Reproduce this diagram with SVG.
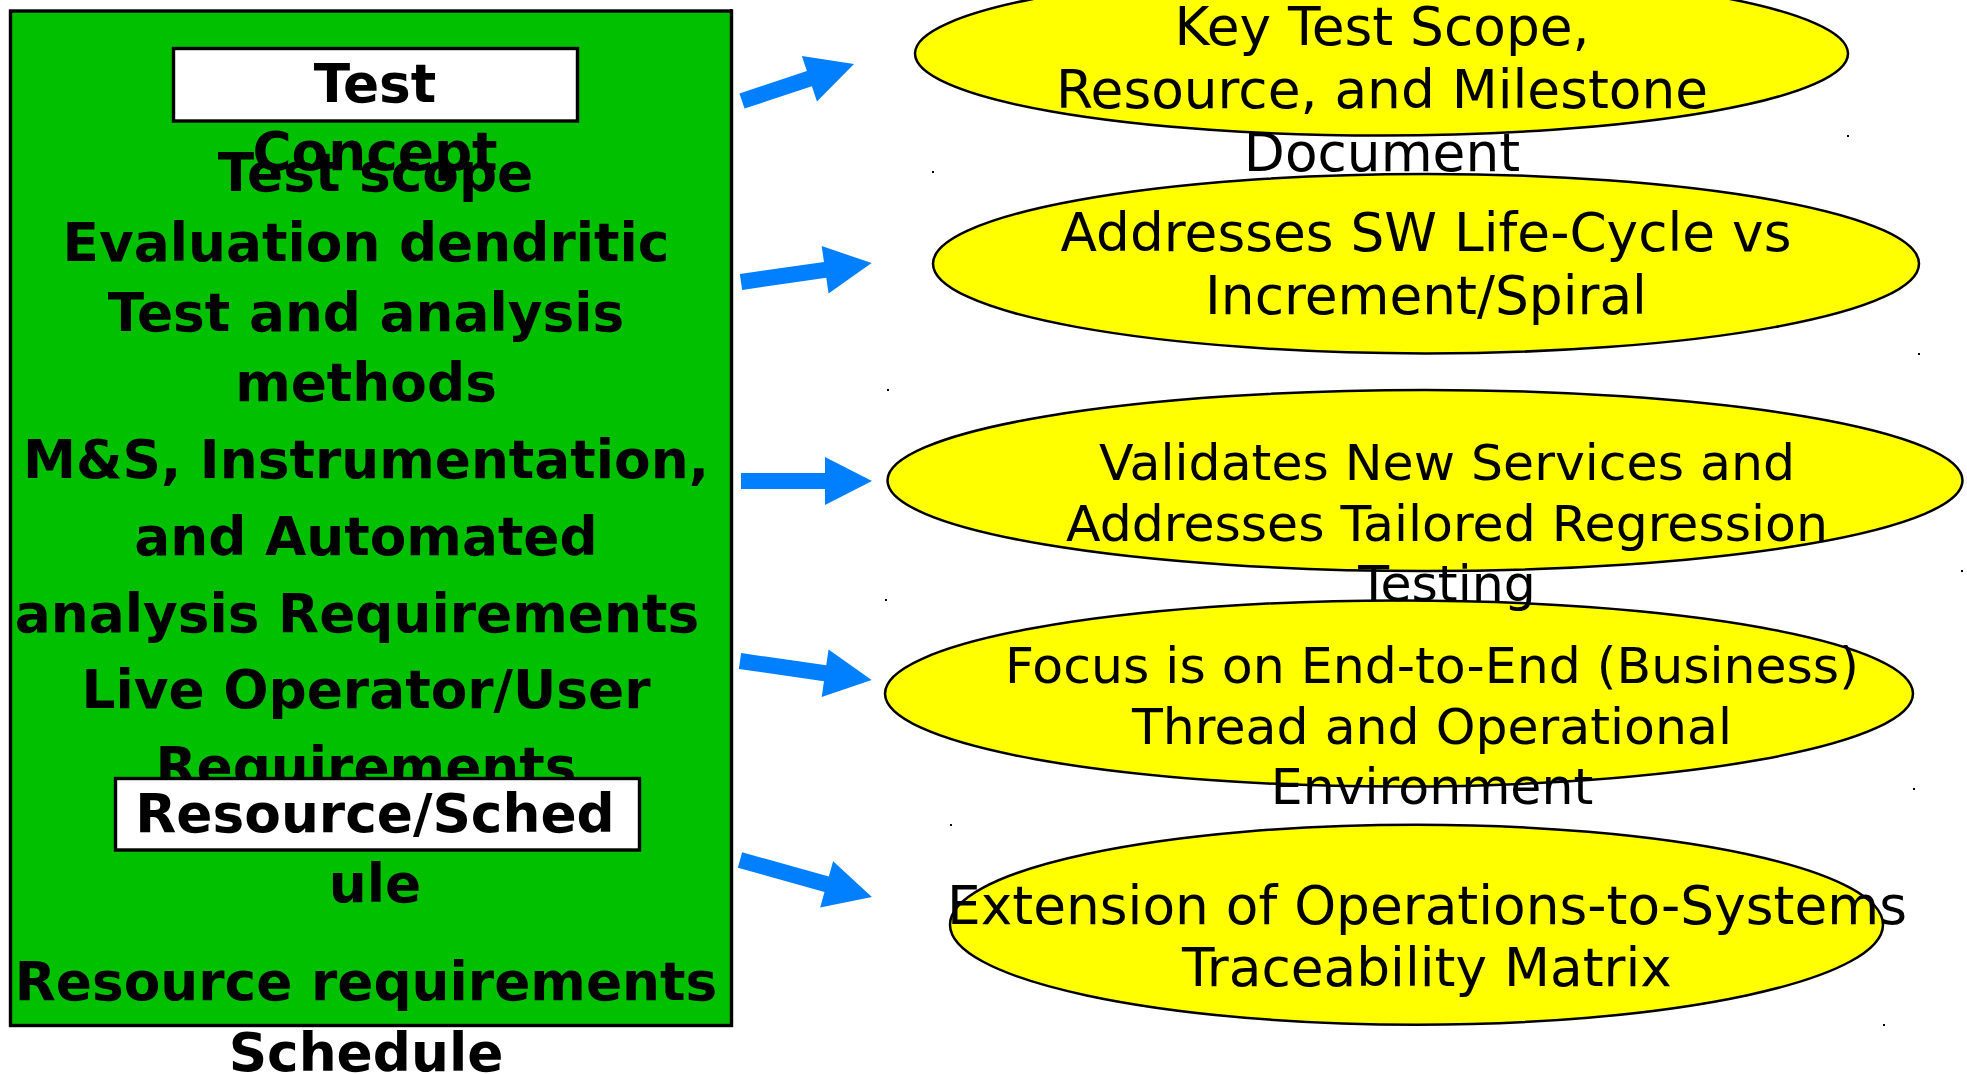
<svg xmlns="http://www.w3.org/2000/svg" width="1967" height="1074" viewBox="0 0 1967 1074">
<style>
.box{fill:#00c000;stroke:#000;stroke-width:3.4}
.lbl{fill:#fff;stroke:#000;stroke-width:3.4}
.bt{font-family:"DejaVu Sans",sans-serif;font-weight:bold;font-size:53.33px;fill:#000;text-anchor:middle}
.el{fill:#ffff00;stroke:#000;stroke-width:2.5}
.et{font-family:"DejaVu Sans",sans-serif;font-size:53.33px;fill:#000;text-anchor:middle}
.es{font-size:50.5px}
.arr{fill:#0080ff}
.dot{fill:#000}
</style>
<rect width="1967" height="1074" fill="#fff"/>
<g id="test-plan-box">
<rect class="box" x="10.5" y="11" width="721" height="1014.5"/>
<rect class="lbl" x="173.5" y="48.5" width="404" height="72.5"/>
<text class="bt" x="375" y="102">Test</text>
<text class="bt" x="375" y="170">Concept</text>
<text class="bt" x="375.5" y="191">Test scope</text>
<text class="bt" x="366" y="261">Evaluation dendritic</text>
<text class="bt" x="366" y="330.5">Test and analysis</text>
<text class="bt" x="366" y="401">methods</text>
<text class="bt" x="366" y="477.5">M&amp;S, Instrumentation,</text>
<text class="bt" x="366" y="555">and Automated</text>
<text class="bt" x="357" y="631.5">analysis Requirements</text>
<text class="bt" x="366" y="708">Live Operator/User</text>
<text class="bt" x="366" y="785">Requirements</text>
<rect class="lbl" x="115.5" y="778.5" width="524" height="71.5"/>
<text class="bt" x="375" y="832">Resource/Sched</text>
<text class="bt" x="375" y="902">ule</text>
<text class="bt" x="366" y="1000">Resource requirements</text>
<text class="bt" x="366" y="1071">Schedule</text>
<rect class="dot" x="730" y="9" width="2" height="2"/>
</g>
<g id="connectors">
<polygon class="arr" transform="translate(742,101) rotate(-18.3)" points="0,-8 71,-8 71,-24 118,0 71,24 71,8 0,8"/>
<polygon class="arr" transform="translate(741,282) rotate(-8.25)" points="0,-8 85,-8 85,-24 132,0 85,24 85,8 0,8"/>
<polygon class="arr" transform="translate(741,481)" points="0,-8 84,-8 84,-24 131,0 84,24 84,8 0,8"/>
<polygon class="arr" transform="translate(740,661) rotate(8.2)" points="0,-8 86,-8 86,-24 133,0 86,24 86,8 0,8"/>
<polygon class="arr" transform="translate(740,860) rotate(15.65)" points="0,-8 90,-8 90,-24 137,0 90,24 90,8 0,8"/>
</g>
<g id="node-traceability">
<ellipse class="el" cx="1416.5" cy="924.7" rx="466.5" ry="100"/>
<text class="et" x="1427" y="923.5">Extension of Operations-to-Systems</text>
<text class="et" x="1427" y="985.5">Traceability Matrix</text>
<rect class="dot" x="950" y="824" width="2" height="2"/>
<rect class="dot" x="1883" y="1024" width="2" height="2"/>
</g>
<g id="node-end-to-end">
<ellipse class="el" cx="1399" cy="693.5" rx="514" ry="93"/>
<text class="et es" x="1432" y="683">Focus is on End-to-End (Business)</text>
<text class="et es" x="1432" y="743.5">Thread and Operational</text>
<text class="et es" x="1432" y="804">Environment</text>
<rect class="dot" x="885" y="599" width="2" height="2"/>
<rect class="dot" x="1913" y="788" width="2" height="2"/>
</g>
<g id="node-regression">
<ellipse class="el" cx="1425" cy="480.5" rx="537.5" ry="90.5"/>
<text class="et es" x="1447" y="479.5">Validates New Services and</text>
<text class="et es" x="1447" y="540.5">Addresses Tailored Regression</text>
<text class="et es" x="1447" y="601">Testing</text>
<rect class="dot" x="887" y="389" width="2" height="2"/>
<rect class="dot" x="1961" y="570" width="2" height="2"/>
</g>
<g id="node-lifecycle">
<ellipse class="el" cx="1426" cy="263.7" rx="493" ry="89.7"/>
<text class="et" x="1426" y="250.5">Addresses SW Life-Cycle vs</text>
<text class="et" x="1426" y="314">Increment/Spiral</text>
<rect class="dot" x="932" y="171" width="2" height="2"/>
<rect class="dot" x="1918" y="353" width="2" height="2"/>
</g>
<g id="node-key-test-scope">
<ellipse class="el" cx="1381.5" cy="53.5" rx="466.5" ry="82"/>
<text class="et" x="1382" y="44.5">Key Test Scope,</text>
<text class="et" x="1382" y="108">Resource, and Milestone</text>
<text class="et" x="1382" y="171">Document</text>
<rect class="dot" x="1847" y="135" width="2" height="2"/>
</g>
</svg>
